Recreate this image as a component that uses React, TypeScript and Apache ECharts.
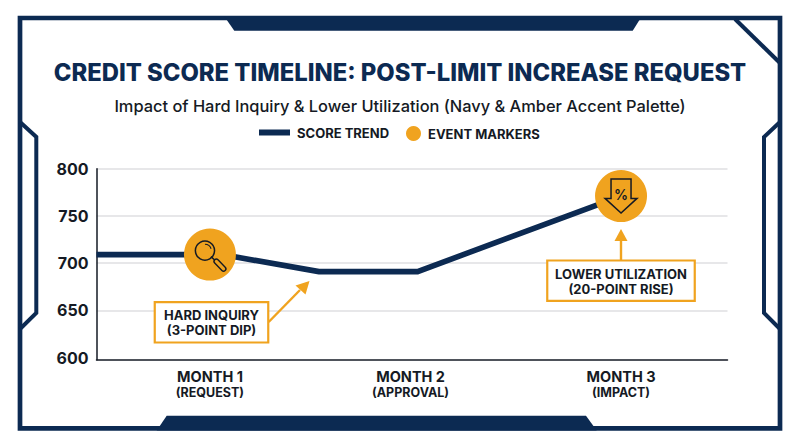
import React, { useEffect, useRef } from "react";
import * as echarts from "echarts";

const TITLE = "CREDIT SCORE TIMELINE: POST-LIMIT INCREASE REQUEST";
const SUBTITLE = "Impact of Hard Inquiry & Lower Utilization (Navy & Amber Accent Palette)";
const monthLabels = ["MONTH 1", "MONTH 2", "MONTH 3"];
const monthNotes = ["(REQUEST)", "(APPROVAL)", "(IMPACT)"];
const monthPositions = [1, 1.976, 3];
const yTicks = [600, 650, 700, 750, 800];
const trendX = [0.448, 1.06, 1.53, 2.01, 3];
const trendY = [709, 709, 691, 691, 771];
const eventX = [1, 3];
const eventY = [709, 771];
const NAVY = "#0c2a52";
const AMBER = "#f0a31f";
const INK = "#151a24";
const FONT = "Inter, 'Noto Sans', sans-serif";

function callout(cx: number, top: number, w: number, h: number, lines: string[]) {
  return [
    { type: "rect", shape: { x: cx - w / 2, y: top, width: w, height: h }, style: { fill: "#fff", stroke: AMBER, lineWidth: 2.2 }, z: 20 },
    ...lines.map((t, i) => ({
      type: "text", x: cx, y: top + 13.2 + i * 14.8, z: 21,
      style: { text: t, fill: INK, font: `700 13px ${FONT}`, align: "center", verticalAlign: "middle" },
    })),
  ];
}

function renderIcon(params: any, api: any) {
  const p = api.coord([api.value(0), api.value(1)]);
  const stroke = { stroke: INK, fill: "none", lineWidth: 1.5 };
  if (params.dataIndex === 0) {
    return {
      type: "group", x: p[0], y: p[1],
      children: [
        { type: "line", shape: { x1: 1, y1: 2, x2: 5, y2: 5.6 }, style: { stroke: INK, lineWidth: 1.5 } },
        { type: "line", shape: { x1: 6.4, y1: 6.8, x2: 13.6, y2: 14.2 }, style: { stroke: INK, lineWidth: 6, lineCap: "round" } },
        { type: "line", shape: { x1: 6.4, y1: 6.8, x2: 13.6, y2: 14.2 }, style: { stroke: AMBER, lineWidth: 3.2, lineCap: "round" } },
        { type: "circle", shape: { cx: -5, cy: -4, r: 9.6 }, style: stroke },
        { type: "arc", shape: { cx: -5, cy: -4, r: 6.4, startAngle: -Math.PI / 2, endAngle: -0.3, clockwise: true }, style: { ...stroke, lineWidth: 1.1 } },
      ],
    };
  }
  return {
    type: "group", x: p[0], y: p[1],
    children: [
      { type: "polygon", shape: { points: [[-10, -17], [10, -17], [10, 2.3], [16, 2.3], [0, 17], [-16, 2.3], [-10, 2.3]] }, style: { ...stroke, lineJoin: "miter" } },
      { type: "text", x: 0, y: -2, style: { text: "%", fill: INK, font: `600 14px ${FONT}`, align: "center", verticalAlign: "middle" } },
    ],
  };
}

export default function App() {
  const ref = useRef<HTMLDivElement>(null);
  useEffect(() => {
    const chart = echarts.init(ref.current!, undefined, { renderer: "svg" });
    const legendText = { fontFamily: FONT, fontSize: 13, fontWeight: 700, color: INK, padding: [0, 0, 0, 2] };
    chart.setOption({
      animation: false,
      backgroundColor: "#fff",
      title: {
        text: TITLE, subtext: SUBTITLE, left: "center", top: 55, itemGap: 14,
        textStyle: { fontFamily: FONT, fontSize: 23.8, fontWeight: 800, color: NAVY },
        subtextStyle: { fontFamily: FONT, fontSize: 16.4, fontWeight: 500, color: INK },
      },
      legend: [
        { data: [{ name: "SCORE TREND", icon: "rect" }], left: 259, top: 126, padding: 0, itemWidth: 31, itemHeight: 6, textStyle: legendText },
        { data: ["EVENT MARKERS"], left: 406, top: 126, padding: 0, itemWidth: 15, itemHeight: 15, textStyle: legendText },
      ],
      grid: { left: 96.5, right: 72.5, top: 168.7, bottom: 87.3 },
      xAxis: {
        type: "value", min: 0.448, max: 3.518, splitLine: { show: false },
        axisLine: { show: true, onZero: false, lineStyle: { color: INK, width: 1.5 } },
        axisTick: { show: false, customValues: monthPositions },
        axisLabel: {
          customValues: monthPositions, margin: 9, hideOverlap: false,
          formatter: (v: number) => {
            const i = monthPositions.indexOf(v);
            return `{a|${monthLabels[i]}}\n{b|${monthNotes[i]}}`;
          },
          rich: {
            a: { fontFamily: FONT, fontSize: 14.5, fontWeight: 700, color: INK, lineHeight: 16 },
            b: { fontFamily: FONT, fontSize: 12.5, fontWeight: 700, color: INK, lineHeight: 15 },
          },
        },
      },
      yAxis: {
        type: "value", min: 597.7, max: 800,
        axisLine: { show: true, lineStyle: { color: INK, width: 1.5 } },
        axisTick: { show: false, customValues: yTicks.slice(1) },
        splitLine: { show: true, lineStyle: { color: "#dfdfe2", width: 1.5 } },
        axisLabel: { customValues: yTicks, margin: 8, fontFamily: FONT, fontSize: 16, fontWeight: 700, color: INK },
      },
      series: [
        {
          name: "SCORE TREND", type: "line", symbol: "none", z: 3,
          lineStyle: { color: NAVY, width: 5.6, join: "miter" }, itemStyle: { color: NAVY },
          data: trendX.map((x, i) => [x, trendY[i]]),
        },
        {
          name: "EVENT MARKERS", type: "scatter", symbol: "circle", symbolSize: 52, z: 4,
          itemStyle: { color: AMBER, opacity: 1 },
          data: eventX.map((x, i) => [x, eventY[i]]),
        },
        {
          name: "icons", type: "custom", z: 5, renderItem: renderIcon, silent: true,
          encode: { x: 0, y: 1 }, data: eventX.map((x, i) => [x, eventY[i]]),
        },
      ],
      graphic: [
        { type: "rect", shape: { x: 20, y: 18, width: 760, height: 410.4 }, style: { fill: "none", stroke: NAVY, lineWidth: 4.7 }, z: 10 },
        { type: "polygon", shape: { points: [[224, 16], [642, 16], [632.7, 30.7], [234.3, 30.7]] }, style: { fill: NAVY }, z: 10 },
        { type: "polygon", shape: { points: [[156.7, 430.6], [166.7, 415.7], [586, 415.7], [596.7, 430.6]] }, style: { fill: NAVY }, z: 10 },
        { type: "polyline", shape: { points: [[20, 122], [36.3, 137], [36.3, 313], [20, 329]] }, style: { fill: "none", stroke: NAVY, lineWidth: 4 }, z: 10 },
        { type: "polyline", shape: { points: [[780, 122], [764, 137], [764, 313], [780, 329]] }, style: { fill: "none", stroke: NAVY, lineWidth: 4 }, z: 10 },
        { type: "line", shape: { x1: 735, y1: 19, x2: 780, y2: 63 }, style: { stroke: NAVY, lineWidth: 4 }, z: 10 },
        { type: "line", shape: { x1: 268.7, y1: 322, x2: 300, y2: 290 }, style: { stroke: AMBER, lineWidth: 2.4 }, z: 19 },
        { type: "polygon", shape: { points: [[309.5, 281], [305.5, 294.5], [295.5, 285.5]] }, style: { fill: AMBER }, z: 19 },
        { type: "line", shape: { x1: 621, y1: 261, x2: 621, y2: 240 }, style: { stroke: AMBER, lineWidth: 2.4 }, z: 19 },
        { type: "polygon", shape: { points: [[621, 229], [627.5, 241], [614.5, 241]] }, style: { fill: AMBER }, z: 19 },
        ...callout(211.5, 302.2, 113.5, 40.3, ["HARD INQUIRY", "(3-POINT DIP)"]),
        ...callout(621, 260.5, 147.5, 40.3, ["LOWER UTILIZATION", "(20-POINT RISE)"]),
      ],
    });
    return () => chart.dispose();
  }, []);
  return <div ref={ref} style={{ position: "absolute", left: 0, top: 0, width: 800, height: 447 }} />;
}
